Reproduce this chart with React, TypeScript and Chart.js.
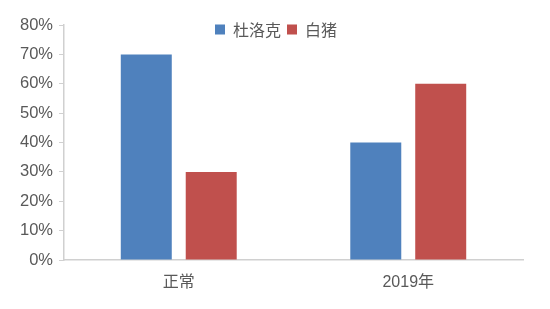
import React, { useEffect, useRef } from "react";
import { Chart, registerables } from "chart.js";

Chart.register(...registerables);

const categories = ["正常", "2019年"];
const seriesNames = ["杜洛克", "白猪"];
const duroc = [70, 40];
const whitePig = [30, 60];
const yTicks = [0, 10, 20, 30, 40, 50, 60, 70, 80];
const colors = ["#4F81BD", "#C0504D"];

const legendShift = {
  id: "legendShift",
  afterLayout(chart: any) {
    const l = chart.legend;
    if (!l) return;
    const dy = 31.5 - (l.top + l.bottom) / 2;
    l.top += dy;
    l.bottom += dy;
    const dx = 276 - (l.left + l.right) / 2;
    l.left += dx;
    l.right += dx;
  },
};

export default function App() {
  const ref = useRef<HTMLCanvasElement | null>(null);
  useEffect(() => {
    document.body.style.margin = "0";
    const ctx = ref.current!.getContext("2d")!;
    const chart = new Chart(ctx, {
      type: "bar",
      data: {
        labels: categories,
        datasets: [
          {
            label: seriesNames[0],
            data: duroc,
            backgroundColor: colors[0],
            categoryPercentage: 0.566,
            barPercentage: 0.785,
          },
          {
            label: seriesNames[1],
            data: whitePig,
            backgroundColor: colors[1],
            categoryPercentage: 0.566,
            barPercentage: 0.785,
          },
        ],
      },
      plugins: [legendShift],
      options: {
        animation: false,
        responsive: false,
        maintainAspectRatio: false,
        layout: { padding: { left: 0, right: 27, top: -7, bottom: 0 } },
        plugins: {
          tooltip: { enabled: false },
          legend: {
            position: "top",
            align: "center",
            labels: {
              boxWidth: 10,
              boxHeight: 10,
              padding: 6,
              color: "#595959",
              font: { family: "'Noto Sans CJK SC', sans-serif", size: 16 },
            },
          },
        },
        scales: {
          x: {
            grid: { display: false, drawTicks: false },
            border: { display: true, color: "#d0d0d0", width: 1.5 },
            ticks: {
              color: "#595959",
              padding: 13,
              font: { family: "'Liberation Sans', 'Noto Sans CJK SC', sans-serif", size: 16 },
            },
            afterFit(scale: any) {
              scale.height = 49;
            },
          },
          y: {
            min: 0,
            max: 80,
            afterBuildTicks(scale: any) {
              scale.ticks = yTicks.map((v) => ({ value: v }));
            },
            grid: {
              drawOnChartArea: false,
              drawTicks: true,
              tickLength: 5,
              color: "#d0d0d0",
            },
            border: { display: true, color: "#d0d0d0", width: 1.5 },
            ticks: {
              color: "#595959",
              padding: 6,
              font: { family: "'Liberation Sans', sans-serif", size: 16.5 },
              callback: (v: any) => v + "%",
            },
            afterFit(scale: any) {
              scale.width = 64;
            },
          },
        },
      },
    });
    return () => chart.destroy();
  }, []);
  return (
    <div style={{ position: "fixed", left: 0, top: 0, width: 550, height: 309, background: "#fff" }}>
      <canvas ref={ref} width={550} height={309} style={{ width: 550, height: 309 }} />
    </div>
  );
}
